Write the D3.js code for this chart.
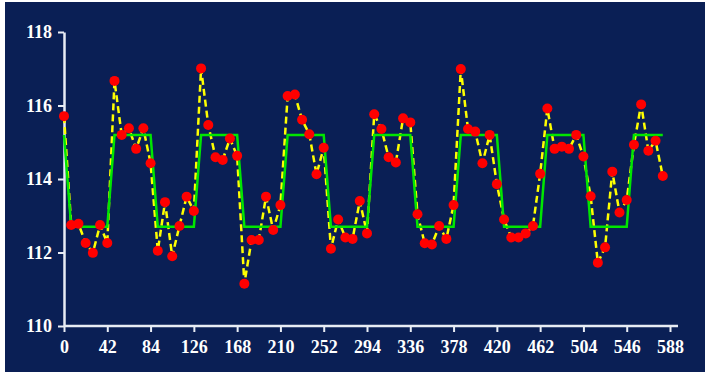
<!DOCTYPE html>
<html>
<head>
<meta charset="utf-8">
<script src="https://cdn.jsdelivr.net/npm/d3@7"></script>
<style>
  html, body { margin: 0; padding: 0; background: #ffffff; }
  svg { display: block; }
</style>
</head>
<body>
<div id="chart"></div>
<script>
// sample positions (every 7 units) and measured values
const xStep = 7;
const measured = [
  115.71, 112.75, 112.78, 112.26, 111.99, 112.75, 112.26, 116.67, 115.20, 115.38,
  114.82, 115.38, 114.43, 112.05, 113.37, 111.90, 112.72, 113.52, 113.13, 117.01,
  115.47, 114.59, 114.52, 115.10, 114.63, 111.15, 112.34, 112.34, 113.52, 112.61,
  113.29, 116.26, 116.30, 115.61, 115.22, 114.13, 114.85, 112.10, 112.90, 112.41,
  112.37, 113.40, 112.52, 115.76, 115.36, 114.59, 114.45, 115.65, 115.54, 113.04,
  112.25, 112.22, 112.72, 112.37, 113.29, 116.99, 115.36, 115.29, 114.43, 115.20,
  113.86, 112.90, 112.41, 112.41, 112.52, 112.72, 114.14, 115.92, 114.82, 114.88,
  114.82, 115.20, 114.61, 113.53, 111.72, 112.14, 114.20, 113.09, 113.43, 114.93,
  116.03, 114.77, 115.04, 114.08
];
// square-wave reference (high / low level per sample)
const square = [
  115.2, 112.7, 112.7, 112.7, 112.7, 112.7, 112.7, 115.2, 115.2, 115.2, 115.2, 115.2, 115.2,
  112.7, 112.7, 112.7, 112.7, 112.7, 112.7, 115.2, 115.2, 115.2, 115.2, 115.2, 115.2,
  112.7, 112.7, 112.7, 112.7, 112.7, 112.7, 115.2, 115.2, 115.2, 115.2, 115.2, 115.2,
  112.7, 112.7, 112.7, 112.7, 112.7, 112.7, 115.2, 115.2, 115.2, 115.2, 115.2, 115.2,
  112.7, 112.7, 112.7, 112.7, 112.7, 112.7, 115.2, 115.2, 115.2, 115.2, 115.2, 115.2,
  112.7, 112.7, 112.7, 112.7, 112.7, 112.7, 115.2, 115.2, 115.2, 115.2, 115.2, 115.2,
  112.7, 112.7, 112.7, 112.7, 112.7, 112.7, 115.2, 115.2, 115.2, 115.2, 115.2
];
const xTicks = [0, 42, 84, 126, 168, 210, 252, 294, 336, 378, 420, 462, 504, 546, 588];
const yTicks = [110, 112, 114, 116, 118];

const width = 705, height = 372;
const mLeft = 64, mTop = 32, mRight = 670, mBottom = 326;

const svg = d3.select("#chart").append("svg")
  .attr("width", width)
  .attr("height", height);

svg.append("rect")
  .attr("x", 5).attr("y", 2)
  .attr("width", width - 5).attr("height", height - 2)
  .attr("fill", "#0a1f55");

const x = d3.scaleLinear().domain([0, 588]).range([mLeft, mRight]);
const y = d3.scaleLinear().domain([110, 118]).range([mBottom, mTop]);

// axes
const xAxis = svg.append("g")
  .attr("transform", "translate(0," + mBottom + ")")
  .call(d3.axisBottom(x).tickValues(xTicks).tickSize(6).tickPadding(8).tickSizeOuter(0));
xAxis.select(".domain").attr("d", "M" + mLeft + ",0H678");

const yAxis = svg.append("g")
  .attr("transform", "translate(" + mLeft + ",0)")
  .call(d3.axisLeft(y).tickValues(yTicks).tickSize(6).tickPadding(6).tickSizeOuter(0));

svg.selectAll(".domain").attr("stroke", "#e8ecf4").attr("stroke-width", 2.5);
svg.selectAll(".tick line").attr("stroke", "#e8ecf4").attr("stroke-width", 2);
svg.selectAll(".tick text")
  .attr("fill", "#ffffff")
  .style("font-family", "'Liberation Serif', 'Times New Roman', serif")
  .style("font-weight", "bold")
  .style("font-size", "18px");

const pts = measured.map((v, i) => ({ x: i * xStep, v: v, s: square[i] }));

// measured series: yellow dashed
svg.append("path")
  .datum(pts)
  .attr("fill", "none")
  .attr("stroke", "#ffff00")
  .attr("stroke-width", 2.5)
  .attr("stroke-dasharray", "7,4")
  .attr("d", d3.line().x(d => x(d.x)).y(d => y(d.v)));

// square wave: green
svg.append("path")
  .datum(pts)
  .attr("fill", "none")
  .attr("stroke", "#00e600")
  .attr("stroke-width", 2.5)
  .attr("d", d3.line().x(d => x(d.x)).y(d => y(d.s)));

// red markers
svg.selectAll("circle.pt")
  .data(pts)
  .enter()
  .append("circle")
  .attr("class", "pt")
  .attr("cx", d => x(d.x))
  .attr("cy", d => y(d.v))
  .attr("r", 5)
  .attr("fill", "#ff0000");
</script>
</body>
</html>
